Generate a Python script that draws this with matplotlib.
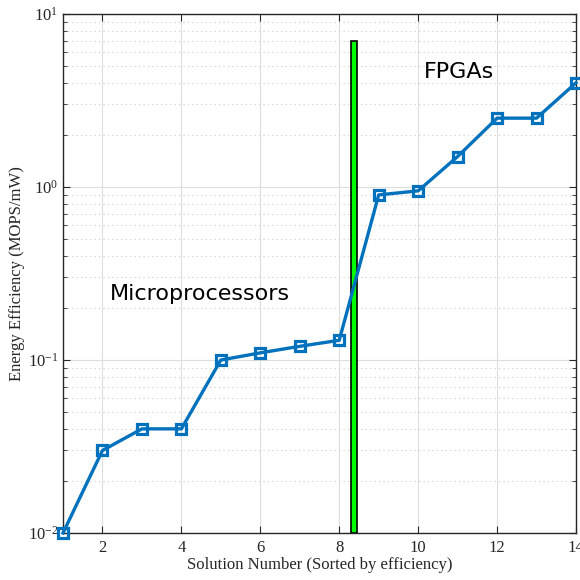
import matplotlib.pyplot as plt
import numpy as np

# energy efficiency per solution, sorted
solution = np.arange(1, 15)
efficiency = [0.01, 0.03, 0.04, 0.04, 0.1, 0.11, 0.12, 0.13,
              0.9, 0.95, 1.5, 2.5, 2.5, 4.0]

# divider between the two groups
divider_x = 8.38
divider_height = 7.0
divider_width = 0.15

xticks = [2, 4, 6, 8, 10, 12, 14]

plt.rcParams['font.family'] = ['Liberation Serif', 'DejaVu Serif']
plt.rcParams['mathtext.fontset'] = 'stix'

fig = plt.figure(figsize=(5.8, 5.8), dpi=100)
ax = fig.add_axes([0.1086, 0.081, 0.8845, 0.8949])

ax.bar(divider_x, divider_height, width=divider_width, bottom=0.01,
       color='#00ff00', edgecolor='black', linewidth=1.2, zorder=3)
ax.plot(solution, efficiency, color='#0072BD', linewidth=2.4,
        marker='s', markersize=6.5, markerfacecolor='none',
        markeredgewidth=2.3, zorder=4, clip_on=False)

ax.set_yscale('log')
ax.set_xlim(1, 14)
ax.set_ylim(1e-2, 1e1)
ax.set_xticks(xticks)
ax.set_xticklabels([str(t) for t in xticks])

ax.grid(True, which='major', color='#dddddd', linewidth=0.8, linestyle='-')
ax.grid(True, which='minor', axis='y', color='#cccccc', linewidth=0.8,
        linestyle=(0, (1, 3)))
ax.set_axisbelow(True)

ax.tick_params(which='both', direction='in', top=True, right=True,
               colors='#262626', labelsize=12)
ax.tick_params(which='major', length=5)
ax.tick_params(which='minor', length=3)
ax.tick_params(axis='x', pad=5)
for s in ax.spines.values():
    s.set_color('#262626')
    s.set_linewidth(1.0)

ax.set_xlabel('Solution Number (Sorted by efficiency)', fontsize=12,
              color='#262626', labelpad=1)
ax.set_ylabel('Energy Efficiency (MOPS/mW)', fontsize=12,
              color='#262626', labelpad=2)

ax.text(2.2, 0.24, 'Microprocessors', fontsize=16, family='DejaVu Sans',
        va='center', ha='left')
ax.text(10.15, 4.6, 'FPGAs', fontsize=16, family='DejaVu Sans',
        va='center', ha='left')

fig.savefig('out.png', dpi=100)
